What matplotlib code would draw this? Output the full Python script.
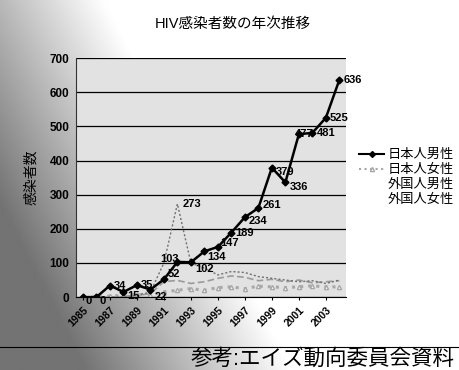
import matplotlib
matplotlib.use("Agg")
import matplotlib.pyplot as plt
from matplotlib.lines import Line2D
import numpy as np

plt.rcParams['font.family'] = ['Liberation Sans', 'Noto Sans CJK JP', 'DejaVu Sans']

years = list(range(1985, 2005))
jp_male = [0, 0, 34, 15, 35, 22, 52, 103, 102, 134, 147, 189, 234, 261, 379, 336, 477, 481, 525, 636]
jp_female = [0, 0, 3, 5, 8, 6, 15, 20, 25, 20, 28, 30, 25, 32, 30, 28, 30, 33, 30, 30]
fr_male = [0, 0, 0, 2, 5, 10, 45, 49, 40, 45, 55, 62, 58, 48, 52, 45, 50, 42, 45, 48]
fr_female = [0, 0, 0, 1, 5, 15, 100, 273, 100, 85, 65, 75, 72, 60, 55, 50, 45, 48, 40, 50]
series_names = ['日本人男性', '日本人女性', '外国人男性', '外国人女性']
tick_years = list(range(1985, 2004, 2))

# label offsets (points) for the 日本人男性 values
label_dx = [2, 2, 3, 3, 3, 3, 3, -12, 3, 2, 2, 3, 3, 3, 3, 3, -3, 3, 3, 3]
label_dy = [-3, -3, 0, -3, 0, -5, 4, 2, -5, -4, 3, 0, -3, 2, -3, -3, 0, 0, 0, 0]

fig = plt.figure(figsize=(4.59, 3.70), dpi=100)

# scanner shading on the lower left
bg = fig.add_axes([0, 0, 1, 1], zorder=-10)
gx, gy = np.meshgrid(np.linspace(0, 1, 200), np.linspace(0, 1, 160))
shade = np.clip(0.5 - 2.2 * gx + 0.9 * gy, 0, 1) * 0.55
bg.imshow(1 - shade, cmap='gray', vmin=0, vmax=1, aspect='auto',
          extent=[0, 1, 0, 1], origin='upper')
bg.axis('off')

ax = fig.add_axes([0.166, 0.197, 0.588, 0.646])
ax.set_facecolor('#e2e2e2')

x = np.arange(len(years))
ax.plot(x, fr_male, color='#9a9a9a', lw=1.2, ls=(0, (4, 2)), zorder=2)
ax.plot(x, jp_female, color='#a8a8a8', lw=2.2, ls=':', marker='^', ms=3,
        mfc='white', mec='#a8a8a8', zorder=2)
ax.plot(x, fr_female, color='#707070', lw=1.0, ls=(0, (1.5, 1.5)), zorder=3)
ax.plot(x, jp_male, color='black', lw=1.8, marker='D', ms=3.5, zorder=4)

for xi, v, dx, dy in zip(x, jp_male, label_dx, label_dy):
    ax.annotate(str(v), (xi, v), xytext=(dx, dy), textcoords='offset points',
                fontsize=8, fontweight='bold', ha='left', va='center', zorder=5)
i273 = fr_female.index(273)
ax.annotate('273', (i273, 273), xytext=(4, 0), textcoords='offset points',
            fontsize=8, fontweight='bold', ha='left', va='center')

ax.set_xlim(-0.5, len(years) - 0.5)
ax.set_ylim(0, 700)
ax.set_yticks(range(0, 701, 100))
ax.yaxis.grid(True, color='black', lw=0.9)
ax.set_axisbelow(True)
ax.set_xticks([years.index(t) for t in tick_years])
ax.set_xticklabels([str(t) for t in tick_years], rotation=45, ha='right',
                   rotation_mode='anchor', fontsize=7.5, fontweight='bold')
ax.tick_params(axis='y', labelsize=8.5, length=0, pad=5)
for lab in ax.get_yticklabels():
    lab.set_fontweight('bold')
ax.tick_params(axis='x', length=2)
for s in ['top', 'right']:
    ax.spines[s].set_visible(False)
ax.spines['left'].set_color('#333333')

ax.set_ylabel('感染者数', fontsize=10, labelpad=8)
fig.text(0.507, 0.935, 'HIV感染者数の年次推移', ha='center', va='center', fontsize=10.5)

handles = [
    Line2D([], [], color='black', lw=1.5, marker='D', ms=3),
    Line2D([], [], color='#a8a8a8', lw=1.5, ls=':', marker='^', ms=3, mfc='white'),
    Line2D([], [], color='none'),
    Line2D([], [], color='none'),
]
fig.legend(handles, series_names, loc='center left', bbox_to_anchor=(0.765, 0.52),
           frameon=False, fontsize=9.5, handlelength=1.9, handletextpad=0.3,
           labelspacing=0.2, borderpad=0.1)

fig.add_artist(Line2D([0, 1], [0.062, 0.062], color='black', lw=0.8))
fig.text(0.99, 0.03, '参考:エイズ動向委員会資料', ha='right', va='center', fontsize=15.5)

fig.savefig('out.png', dpi=100)
